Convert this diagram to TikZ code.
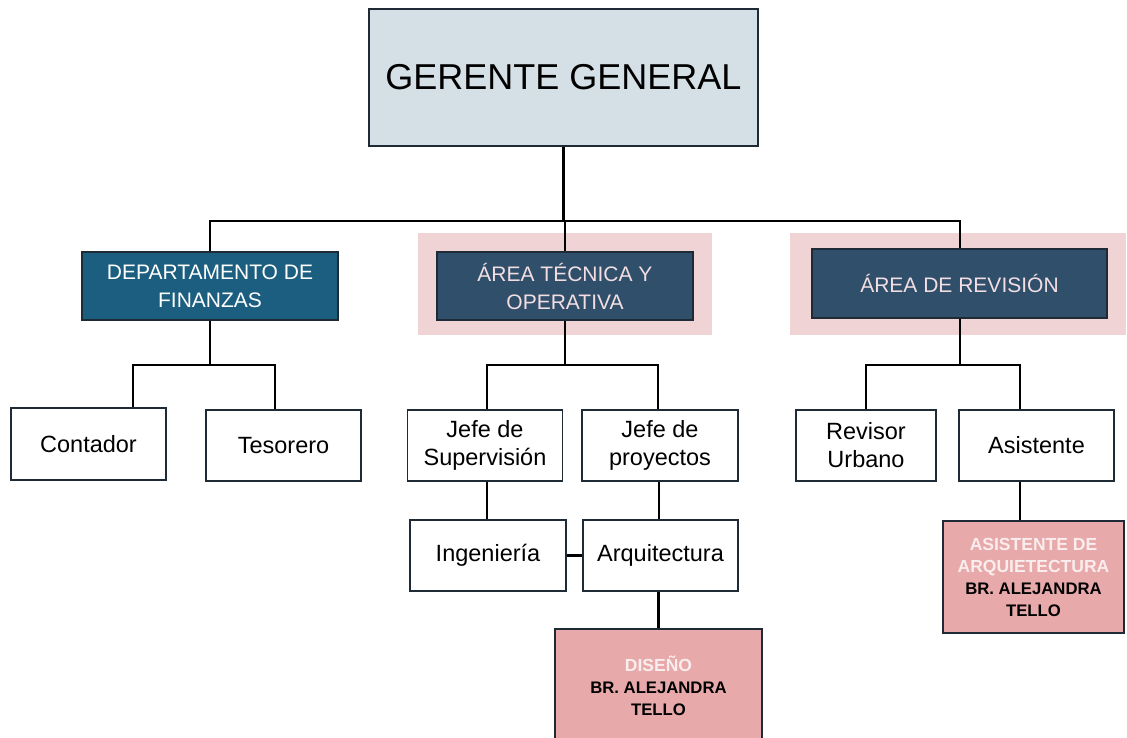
\documentclass[tikz,border=0pt]{standalone}
\usepackage{fontspec}
\setmainfont{Liberation Sans}
\definecolor{gerfill}{HTML}{D4E0E6}
\definecolor{dffill}{HTML}{1B5E80}
\definecolor{areafill}{HTML}{2F4F6B}
\definecolor{pinkbg}{HTML}{F0D3D4}
\definecolor{pinkbox}{HTML}{E8A9AA}
\definecolor{bord}{HTML}{1E2B36}
\definecolor{lighttxt}{HTML}{F3DEE2}
\definecolor{wtxt}{HTML}{FAEDED}
\newcommand{\wline}[1]{{\fontsize{17.5}{22}\selectfont\textcolor{wtxt}{#1}}}
\begin{document}
\begin{tikzpicture}[x=1pt,y=-1pt,
  box/.style={draw=bord,line width=1.8pt,align=center,inner sep=0pt},
  wbox/.style={box,fill=white,font=\fontsize{23.5}{28}\selectfont},
  head/.style={box,font=\fontsize{21}{28}\selectfont},
  pbox/.style={box,fill=pinkbox,font=\bfseries\fontsize{16.7}{22}\selectfont},
  conn/.style={line width=2.2pt,black}]
\useasboundingbox (0,0) rectangle (1127,738);
% pink backgrounds
\fill[pinkbg] (418,233) rectangle (712,335);
\fill[pinkbg] (790,233) rectangle (1126,335);
% nodes
\node[box,fill=gerfill,minimum width=389pt,minimum height=137pt,font=\fontsize{36}{40}\selectfont] (G) at (563.5,77.5) {GERENTE GENERAL};
\node[head,fill=dffill,text=white,minimum width=256pt,minimum height=68pt] (DF) at (210,286) {DEPARTAMENTO DE\\FINANZAS};
\node[head,fill=areafill,text=lighttxt,minimum width=256pt,minimum height=68pt] (ATO) at (565,286) {ÁREA TÉCNICA Y\\OPERATIVA};
\node[head,fill=areafill,text=lighttxt,minimum width=295pt,minimum height=69pt] (AR) at (959.5,283.5) {ÁREA DE REVISIÓN};
\node[wbox,minimum width=155pt,minimum height=72pt] (Cont) at (88.5,444) {Contador};
\node[wbox,minimum width=155pt,minimum height=71pt] (Tes) at (283.5,445.5) {Tesorero};
\node[wbox,minimum width=155pt,minimum height=71pt] (JS) at (485,445.5) {Jefe de\\Supervisión};
\node[wbox,minimum width=156pt,minimum height=71pt] (JP) at (660,445.5) {Jefe de\\proyectos};
\node[wbox,minimum width=156pt,minimum height=71pt] (Ing) at (488,555.5) {Ingeniería};
\node[wbox,minimum width=155pt,minimum height=71pt] (Arq) at (660.5,555.5) {Arquitectura};
\node[pbox,minimum width=207pt,minimum height=114pt] (Dis) at (658.5,686) {\wline{DISEÑO}\\BR. ALEJANDRA\\TELLO};
\node[wbox,minimum width=140pt,minimum height=71pt] (RU) at (866,445.5) {Revisor\\Urbano};
\node[wbox,minimum width=155pt,minimum height=71pt] (As) at (1036.5,445.5) {Asistente};
\node[pbox,minimum width=181pt,minimum height=112pt] (AA) at (1033.5,577) {\wline{ASISTENTE DE}\\\wline{ARQUIETECTURA}\\BR. ALEJANDRA\\TELLO};
% connectors
\coordinate (b0) at (563.5,221);
\coordinate (b1) at (210,365);
\coordinate (b2) at (565,365);
\coordinate (b3) at (960,365);
\draw[conn] (G.south) -- (b0);
\draw[conn] (DF.north) |- (b0) -| ([xshift=0.5pt]AR.north);
\draw[conn] (b0 -| ATO.north) -- (ATO.north);
\draw[conn] (DF.south) -- (b1);
\draw[conn] ([xshift=44.5pt]Cont.north) |- (b1) -| ([xshift=-8.5pt]Tes.north);
\draw[conn] (ATO.south) -- (b2);
\draw[conn] ([xshift=2pt]JS.north) |- (b2) -| ([xshift=-2pt]JP.north);
\draw[conn] ([xshift=2pt]JS.south) -- ([xshift=2pt]JS.south |- Ing.north);
\draw[conn] ([xshift=-1pt]JP.south) -- ([xshift=-1pt]JP.south |- Arq.north);
\draw[conn] (Ing.east) -- (Arq.west);
\draw[conn] ([xshift=-2pt]Arq.south) -- ([xshift=-2pt]Arq.south |- Dis.north);
\draw[conn] ([xshift=0.5pt]AR.south) -- (b3);
\draw[conn] (RU.north) |- (b3) -| ([xshift=-16.5pt]As.north);
\draw[conn] ([xshift=-16.5pt]As.south) -- ([xshift=-16.5pt]As.south |- AA.north);
\end{tikzpicture}
\end{document}
